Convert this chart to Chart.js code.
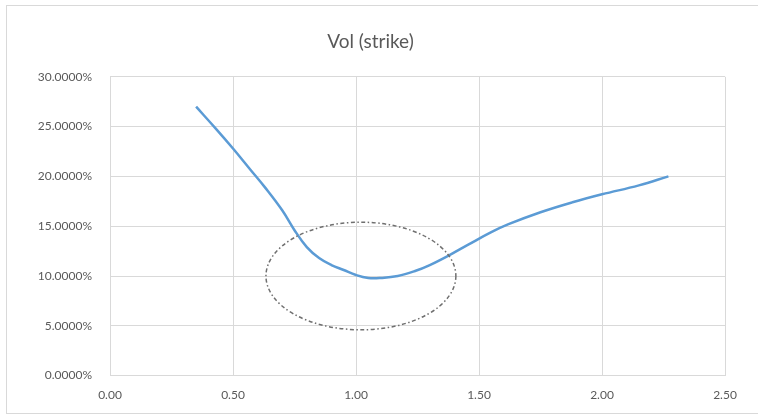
<!DOCTYPE html>
<html>
<head>
<meta charset="utf-8">
<script src="https://cdn.jsdelivr.net/npm/chart.js@4"></script>
<style>
  html, body { margin: 0; padding: 0; background: #fff; }
  #wrap { position: relative; width: 758px; height: 416px; }
</style>
</head>
<body>
<div id="wrap"><canvas id="myChart"></canvas></div>
<script>
// strike values and implied vol (in %)
const strikes = [0.35, 0.43, 0.50, 0.57, 0.63, 0.70, 0.75, 0.80, 0.85, 0.90, 0.95, 1.00, 1.05,
  1.10, 1.17, 1.24, 1.30, 1.38, 1.46, 1.55, 1.62, 1.75, 1.88, 2.00, 2.15, 2.27];
const vols = [27.0, 24.8, 22.8, 20.7, 18.9, 16.6, 14.6, 12.9, 11.8, 11.1, 10.6, 10.1, 9.8,
  9.8, 10.0, 10.5, 11.1, 12.1, 13.2, 14.4, 15.2, 16.4, 17.4, 18.2, 19.1, 20.0];
const xTicks = [0, 0.5, 1.0, 1.5, 2.0, 2.5];
const yTicks = [0, 5, 10, 15, 20, 25, 30];
const chartTitle = "Vol (strike)";

// dotted ellipse round the minimum, in data units
const ringCentre = [1.02, 10.0];
const ringRadius = [0.386, 5.4];

const points = strikes.map((s, i) => ({ x: s, y: vols[i] }));

// ****frame and ellipse****
const extras = {
  id: "extras",
  beforeDraw(chart) {
    const c = chart.ctx;
    c.save();
    c.strokeStyle = "#d9d9d9";
    c.lineWidth = 1;
    c.strokeRect(6.5, 5.5, 760, 408);
    c.restore();
  },
  afterDatasetsDraw(chart) {
    const c = chart.ctx;
    const xs = chart.scales.x;
    const ys = chart.scales.y;
    const cx = xs.getPixelForValue(ringCentre[0]);
    const cy = ys.getPixelForValue(ringCentre[1]);
    const rx = xs.getPixelForValue(ringCentre[0] + ringRadius[0]) - cx;
    const ry = cy - ys.getPixelForValue(ringCentre[1] + ringRadius[1]);
    c.save();
    c.strokeStyle = "#6f6f6f";
    c.lineWidth = 1.5;
    c.setLineDash([4, 2.5, 1.5, 2.5]);
    c.beginPath();
    c.ellipse(cx, cy, rx, ry, 0, 0, Math.PI * 2);
    c.stroke();
    c.restore();
  },
};

const ctx = document.getElementById("myChart");
const myChart = new Chart(ctx, {
  type: "scatter",
  data: {
    datasets: [
      {
        label: "Vol",
        data: points,
        showLine: true,
        borderColor: "#5b9bd5",
        borderWidth: 2.5,
        pointRadius: 0,
        tension: 0.4,
      },
    ],
  },
  options: {
    responsive: true,
    maintainAspectRatio: false,
    animation: false,
    layout: { padding: { left: 16, right: 33, top: 0, bottom: 2 } },
    plugins: {
      legend: { display: false },
      tooltip: { enabled: false },
      title: {
        display: true,
        text: chartTitle,
        color: "#595959",
        font: { family: "Lato", size: 19, weight: "normal" },
        padding: { top: 30, bottom: 24 },
      },
    },
    scales: {
      x: {
        type: "linear",
        min: 0,
        max: 2.5,
        afterBuildTicks: (s) => { s.ticks = xTicks.map((v) => ({ value: v })); },
        ticks: {
          color: "#595959",
          font: { family: "Lato", size: 12 },
          padding: 12,
          callback: (v) => Number(v).toFixed(2),
        },
        grid: { color: "#d9d9d9", drawTicks: false },
        border: { color: "#d9d9d9" },
      },
      y: {
        min: 0,
        max: 30,
        afterBuildTicks: (s) => { s.ticks = yTicks.map((v) => ({ value: v })); },
        afterFit: (s) => { s.width = 94; },
        ticks: {
          color: "#595959",
          font: { family: "Lato", size: 12 },
          padding: 18,
          callback: (v) => Number(v).toFixed(4) + "%",
        },
        grid: { color: "#d9d9d9", drawTicks: false },
        border: { color: "#d9d9d9" },
      },
    },
  },
  plugins: [extras],
});
</script>
</body>
</html>
